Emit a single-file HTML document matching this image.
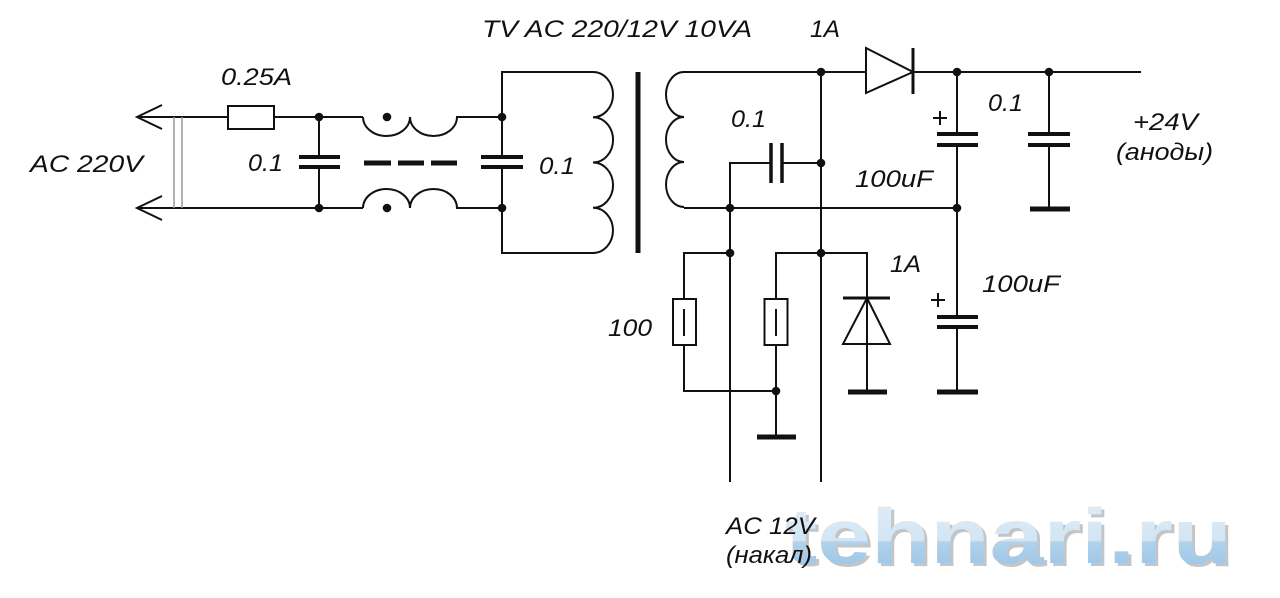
<!DOCTYPE html>
<html>
<head>
<meta charset="utf-8">
<style>
  html, body { margin: 0; padding: 0; background: #ffffff; }
  svg { display: block; }
  .t { font-family: "Liberation Sans", "DejaVu Sans", sans-serif; font-style: italic; font-size: 24px; fill: #111; }
</style>
</head>
<body>
<svg width="1280" height="598" viewBox="0 0 1280 598" xmlns="http://www.w3.org/2000/svg">
  <defs>
    <linearGradient id="wm" x1="0" y1="0" x2="0" y2="1">
      <stop offset="0" stop-color="#e2eef8"/>
      <stop offset="0.55" stop-color="#d3e5f3"/>
      <stop offset="0.57" stop-color="#b0d2ec"/>
      <stop offset="1" stop-color="#94c0e4"/>
    </linearGradient>
  </defs>
  <rect width="1280" height="598" fill="#fff"/>

  <!-- watermark (drawn first so labels sit on top) -->
  <g>
    <text x="788" y="566" textLength="447" lengthAdjust="spacingAndGlyphs" font-family="Liberation Sans, DejaVu Sans, sans-serif" font-weight="bold" font-size="78" fill="#a0a0a0" opacity="0.6">tehnari.ru</text>
    <text x="785" y="563" textLength="447" lengthAdjust="spacingAndGlyphs" font-family="Liberation Sans, DejaVu Sans, sans-serif" font-weight="bold" font-size="78" fill="url(#wm)">tehnari.ru</text>
  </g>

  <g fill="none" stroke="#111" stroke-width="2" stroke-linecap="butt">
    <!-- input arrows -->
    <path d="M162 105 L137 117 L162 129"/>
    <path d="M162 196 L137 208 L162 220"/>
    <!-- top input line with fuse -->
    <path d="M137 117 L228 117"/>
    <rect x="228" y="106" width="46" height="23"/>
    <path d="M274 117 L363 117"/>
    <path d="M137 208 L363 208"/>
    <!-- left cap 0.1 -->
    <path d="M319 117 L319 157 M319 167 L319 208"/>
    <!-- choke -->
    <path d="M363 117 A23.5 19 0 0 0 410 117 A23.5 19 0 0 0 457 117 L502 117"/>
    <path d="M363 208 A23.5 19 0 0 1 410 208 A23.5 19 0 0 1 457 208 L502 208"/>
    <!-- primary -->
    <path d="M593 72 L502 72 L502 157 M502 167 L502 253 L593 253"/>
    <path d="M593 72 A20 22.6 0 0 1 593 117.2 A20 22.6 0 0 1 593 162.5 A20 22.6 0 0 1 593 207.8 A20 22.6 0 0 1 593 253"/>
    <!-- secondary -->
    <path d="M684 72 A18 22.5 0 0 0 684 117 A18 22.5 0 0 0 684 162 A18 22.5 0 0 0 684 207"/>
    <path d="M684 72 L866 72"/>
    <path d="M684 208 L957 208"/>
    <!-- vertical 821 -->
    <path d="M821 72 L821 482"/>
    <!-- vertical 730 and secondary cap -->
    <path d="M730 482 L730 163 L771 163 M782 163 L821 163"/>
    <!-- diode top -->
    <path d="M866 48 L866 93 L913 72 Z"/>
    <path d="M913 72 L1141 72"/>
    <!-- cap 957 -->
    <path d="M957 72 L957 134 M957 145 L957 317 M957 327 L957 392"/>
    <!-- cap 1049 -->
    <path d="M1049 72 L1049 134 M1049 145 L1049 209"/>
    <!-- resistor 1 -->
    <path d="M730 253 L684 253 L684 299"/>
    <rect x="673" y="299" width="23" height="46"/>
    <path d="M684 309 L684 336"/>
    <path d="M684 345 L684 391 L776 391"/>
    <!-- resistor 2 -->
    <path d="M821 253 L776 253 L776 299"/>
    <rect x="764.5" y="299" width="23" height="46"/>
    <path d="M776 309 L776 336"/>
    <path d="M776 345 L776 437"/>
    <!-- lower diode -->
    <path d="M821 253 L867 253 L867 392"/>
    <path d="M867 298 L843 344 L890 344 Z"/>
    <!-- plus signs -->
    <path d="M933 118 L947 118 M940 111 L940 125"/>
    <path d="M931 300 L945 300 M938 293 L938 307"/>
  </g>

  <!-- thick elements -->
  <g stroke="#111" stroke-width="4" fill="none">
    <path d="M299 157 L340 157 M299 167 L340 167"/>
    <path d="M481 157 L523 157 M481 167 L523 167"/>
    <path d="M771 143 L771 183 M782 143 L782 183" stroke-width="3.5"/>
    <path d="M913 48 L913 94" stroke-width="3"/>
    <path d="M937 134 L978 134 M937 145 L978 145"/>
    <path d="M1028 134 L1070 134 M1028 145 L1070 145"/>
    <path d="M937 317 L978 317 M937 327 L978 327"/>
    <path d="M843 298 L890 298" stroke-width="3"/>
  </g>
  <g stroke="#111" stroke-width="5" fill="none">
    <path d="M638 72 L638 253"/>
    <path d="M364 163 L391 163 M398 163 L424 163 M431 163 L457 163"/>
    <path d="M1030 209 L1070 209"/>
    <path d="M937 392 L978 392"/>
    <path d="M848 392 L887 392"/>
    <path d="M757 437 L796 437"/>
  </g>
  <!-- gray double line -->
  <path d="M174 117 L174 208 M182 117 L182 208" stroke="#9a9a9a" stroke-width="1.5" fill="none"/>

  <!-- dots -->
  <g fill="#111">
    <circle cx="319" cy="117" r="4.3"/>
    <circle cx="319" cy="208" r="4.3"/>
    <circle cx="387" cy="117" r="4.3"/>
    <circle cx="387" cy="208" r="4.3"/>
    <circle cx="502" cy="117" r="4.3"/>
    <circle cx="502" cy="208" r="4.3"/>
    <circle cx="821" cy="72" r="4.3"/>
    <circle cx="821" cy="163" r="4.3"/>
    <circle cx="730" cy="208" r="4.3"/>
    <circle cx="730" cy="253" r="4.3"/>
    <circle cx="821" cy="253" r="4.3"/>
    <circle cx="957" cy="72" r="4.3"/>
    <circle cx="1049" cy="72" r="4.3"/>
    <circle cx="957" cy="208" r="4.3"/>
    <circle cx="776" cy="391" r="4.3"/>
  </g>

  <!-- labels -->
  <text class="t" x="482" y="37" textLength="270" lengthAdjust="spacingAndGlyphs">TV AC 220/12V 10VA</text>
  <text class="t" x="810" y="37" textLength="30" lengthAdjust="spacingAndGlyphs">1A</text>
  <text class="t" x="221" y="85" textLength="71" lengthAdjust="spacingAndGlyphs">0.25A</text>
  <text class="t" x="30" y="172" textLength="113" lengthAdjust="spacingAndGlyphs">AC 220V</text>
  <text class="t" x="248" y="171" textLength="35" lengthAdjust="spacingAndGlyphs">0.1</text>
  <text class="t" x="539" y="174" textLength="36" lengthAdjust="spacingAndGlyphs">0.1</text>
  <text class="t" x="731" y="127" textLength="35" lengthAdjust="spacingAndGlyphs">0.1</text>
  <text class="t" x="988" y="111" textLength="35" lengthAdjust="spacingAndGlyphs">0.1</text>
  <text class="t" x="855" y="187" textLength="78" lengthAdjust="spacingAndGlyphs">100uF</text>
  <text class="t" x="982" y="292" textLength="78" lengthAdjust="spacingAndGlyphs">100uF</text>
  <text class="t" x="890" y="272" textLength="31" lengthAdjust="spacingAndGlyphs">1A</text>
  <text class="t" x="608" y="336" textLength="44" lengthAdjust="spacingAndGlyphs">100</text>
  <text class="t" x="1133" y="130" textLength="65" lengthAdjust="spacingAndGlyphs">+24V</text>
  <text class="t" x="1116" y="160" textLength="97" lengthAdjust="spacingAndGlyphs">(аноды)</text>
  <text class="t" x="726" y="534" textLength="89" lengthAdjust="spacingAndGlyphs">AC 12V</text>
  <text class="t" x="726" y="563" textLength="86" lengthAdjust="spacingAndGlyphs">(накал)</text>
</svg>
</body>
</html>
